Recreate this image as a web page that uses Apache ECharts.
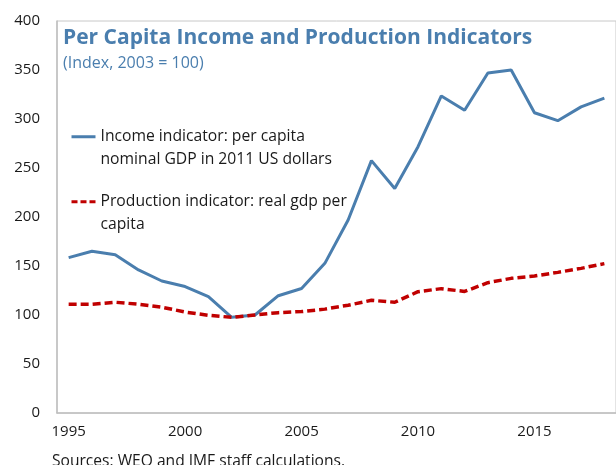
<!DOCTYPE html>
<html>
<head>
<meta charset="utf-8">
<script src="https://cdn.jsdelivr.net/npm/echarts@6/dist/echarts.min.js"></script>
<style>html,body{margin:0;padding:0;background:#fff}#c{width:616px;height:465px}</style>
</head>
<body>
<div id="c"></div>
<script>
const years = ['1995','1996','1997','1998','1999','2000','2001','2002','2003','2004','2005','2006','2007','2008','2009','2010','2011','2012','2013','2014','2015','2016','2017','2018'];
const incomeIndicator = [158.5,165,161.5,146,134.7,129,118.7,97.6,100,119.7,127,152.7,197,257.5,229,271.7,323.5,309,347,350,306.4,298.3,312.4,321.3];
const productionIndicator = [111,111,113,111,108,103,99.7,97.6,100,102.4,103.5,106,110,115,113,123.8,126.9,124,133,137.4,139.8,143.5,147.6,152.4];
const yTicks = [0,50,100,150,200,250,300,350,400];
const incomeName = 'Income indicator: per capita\nnominal GDP in 2011 US dollars';
const prodName = 'Production indicator: real gdp per\ncapita';

const FONT = '"Open Sans", "Noto Sans", sans-serif';
const legendText = {fontFamily: FONT, fontSize: 15.7, color: '#1a1a1a', lineHeight: 22.5};
const chart = echarts.init(document.getElementById('c'), null, {renderer: 'canvas'});
chart.setOption({
  animation: false,
  backgroundColor: '#fff',
  textStyle: {fontFamily: FONT},
  title: [
    {text: 'Per Capita Income and Production Indicators', left: 58, top: 23,
     textStyle: {fontFamily: FONT, fontWeight: 'bold', fontSize: 21, color: '#4a7eae'}},
    {text: '(Index, 2003 = 100)', left: 58, top: 50,
     textStyle: {fontFamily: FONT, fontWeight: 'normal', fontSize: 16, color: '#4a7eae'}},
    {text: 'Sources: WEO and IMF staff calculations.', left: 47, top: 449,
     textStyle: {fontFamily: FONT, fontWeight: 'normal', fontSize: 15.6, color: '#1a1a1a'}}
  ],
  legend: [
    {data: [incomeName], left: 65, top: 98, itemWidth: 24, itemHeight: 10, itemGap: 0,
     formatter: n => ' \n' + n,
     itemStyle: {opacity: 0}, lineStyle: {color: '#4a7eae', width: 3, type: 'solid'},
     textStyle: legendText},
    {data: [prodName], left: 65, top: 163, itemWidth: 24, itemHeight: 10, itemGap: 0,
     formatter: n => ' \n' + n,
     itemStyle: {opacity: 0}, lineStyle: {color: '#c00000', width: 3, type: [6, 3]},
     textStyle: legendText}
  ],
  grid: {left: 57, top: 21, right: -10, bottom: 52, show: true, borderColor: '#c8c8c8', borderWidth: 1, containLabel: false},
  xAxis: {
    type: 'category', data: years, boundaryGap: true,
    axisLine: {lineStyle: {color: '#bfbfbf', width: 1.5}},
    axisTick: {inside: true, length: 4, interval: 0, lineStyle: {color: '#bfbfbf'}},
    axisLabel: {interval: (i, v) => (+v) % 5 === 0, fontFamily: FONT, fontSize: 15, color: '#1a1a1a', margin: 11},
    splitLine: {show: false}
  },
  yAxis: {
    type: 'value', min: yTicks[0], max: yTicks[yTicks.length-1], interval: 50,
    axisLine: {show: true, lineStyle: {color: '#bfbfbf', width: 1.5}},
    axisTick: {show: false},
    axisLabel: {fontFamily: FONT, fontSize: 15, color: '#1a1a1a', margin: 17},
    splitLine: {show: false}
  },
  series: [
    {name: incomeName, type: 'line', data: incomeIndicator, showSymbol: false, symbol: 'none',
     lineStyle: {color: '#4a7eae', width: 3}, itemStyle: {color: '#4a7eae'}},
    {name: prodName, type: 'line', data: productionIndicator, showSymbol: false, symbol: 'none',
     lineStyle: {color: '#c00000', width: 3.5, type: [8, 4]}, itemStyle: {color: '#c00000'}}
  ]
});
</script>
</body>
</html>
